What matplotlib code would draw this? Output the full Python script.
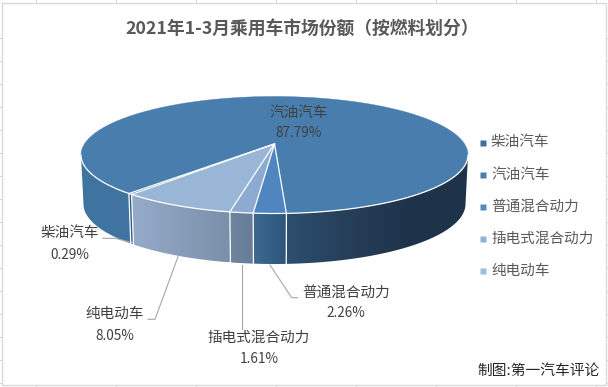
import numpy as np
import matplotlib
matplotlib.use('Agg')
import matplotlib.pyplot as plt
from matplotlib.colors import LinearSegmentedColormap
from matplotlib.patches import Polygon

plt.rcParams['font.family'] = ['Noto Sans CJK SC', 'DejaVu Sans']

# Data, in the order Excel draws the slices
categories = ['柴油汽车', '汽油汽车', '普通混合动力', '插电式混合动力', '纯电动车']
shares = [0.29, 87.79, 2.26, 1.61, 8.05]
title = '2021年1-3月乘用车市场份额（按燃料划分）'
credit = '制图:第一汽车评论'

top_colors = ['#3f6f9c', '#487dae', '#4f86bf', '#8dabd0', '#9ab6d6']
legend_colors = ['#3f6f9c', '#487dae', '#4f8ac4', '#8fb1da', '#9cbce0']
# side colours from left to right for the front of each slice
side_colors = [['#2c5d88', '#2c5d88'],
               ['#3f73a1', '#41749f'],
               ['#3d6991', '#2e5579'],
               ['#6f849f', '#687c97'],
               ['#95abca', '#7b8fa9']]
gas_right_colors = ['#2d4e6f', '#263f5a', '#1f344b', '#1e3349']

# Pixel layout of the 3D pie
TOP = (274.5, 155.0, 193.5, 58.5)
BOTTOM = (274.5, 204.0, 191.0, 60.0)
K = -0.19  # moves the apex towards the back, like the perspective in Excel
START = -40.0  # degrees from front centre where the first slice begins


def rim(phi_deg, ellipse):
    # Map a circle angle to the tilted rim (phi = 0 faces the viewer)
    cx, cy, a, b = ellipse
    phi = np.radians(phi_deg)
    u, v = np.sin(phi), np.cos(phi)
    d = 1 + K * v
    return cx + a * u * np.sqrt(1 - K ** 2) / d, cy + b * (v + K) / d


def apex():
    cx, cy, a, b = TOP
    return cx, cy + b * K


def draw_side(ax, phi_a, phi_b, colors):
    # Front wall between two angles, filled with a left to right gradient
    phis = np.linspace(phi_a, phi_b, 80)
    xt, yt = rim(phis, TOP)
    xb, yb = rim(phis, BOTTOM)
    pts = np.column_stack([np.r_[xt, xb[::-1]], np.r_[yt, yb[::-1]]])
    poly = Polygon(pts, closed=True, facecolor='none', edgecolor='none',
                   transform=ax.transData)
    ax.add_patch(poly)
    cmap = LinearSegmentedColormap.from_list('side', colors)
    grad = np.linspace(0, 1, 256).reshape(1, -1)
    x0, x1 = pts[:, 0].min(), pts[:, 0].max()
    im = ax.imshow(grad, cmap=cmap, aspect='auto', interpolation='bilinear',
                   extent=(x0, x1, pts[:, 1].max(), pts[:, 1].min()), zorder=2)
    im.set_clip_path(poly)


fig = plt.figure(figsize=(6.08, 3.87), dpi=100)
ax = fig.add_axes([0, 0, 1, 1])

# Slice boundaries: clockwise on screen means the angle goes down
edges = START - np.cumsum([0] + [s * 3.6 for s in shares])
front_limit = np.degrees(np.arccos(-K))

# --- walls ---
draw_side(ax, edges[1], edges[0], side_colors[0])
draw_side(ax, -front_limit, edges[1], side_colors[1])
draw_side(ax, edges[2] + 360, front_limit, gas_right_colors)
for i in [2, 3, 4]:
    draw_side(ax, edges[i + 1] + 360, edges[i] + 360, side_colors[i])

# --- top face ---
ax_x, ax_y = apex()
for i in [1, 2, 3, 4, 0]:
    phis = np.linspace(edges[i], edges[i + 1], max(int(shares[i] * 8), 6))
    xs, ys = rim(phis, TOP)
    pts = np.column_stack([np.r_[ax_x, xs], np.r_[ax_y, ys]])
    ax.add_patch(Polygon(pts, closed=True, facecolor=top_colors[i],
                         edgecolor=top_colors[i], linewidth=0.3, zorder=3))

# --- white edges ---
phis = np.linspace(-front_limit, front_limit, 200)
ax.plot(*rim(phis, TOP), color='white', lw=0.9, zorder=4)
for e in edges[:-1]:
    x_top, y_top = rim(e, TOP)
    x_bot, y_bot = rim(e, BOTTOM)
    ax.plot([ax_x, x_top], [ax_y, y_top], color='white', lw=0.9, zorder=4)
    ax.plot([x_top, x_bot], [y_top, y_bot], color='white', lw=0.9, zorder=4)

# --- leader lines ---
leaders = [([102.7, 115, 133], [238.3, 238.3, 242.7]),
           ([148, 155, 178], [319.3, 319.3, 256.7]),
           ([242.3, 242.3], [265, 329]),
           ([270, 291.7, 297.7], [265, 297.7, 297.7])]
for lx, ly in leaders:
    ax.plot(lx, ly, color='#a6a6a6', lw=0.8, zorder=3)

# --- data labels ---
label_pos = [(69.7, 233, 255), (299, 113, 133), (346, 292.7, 313),
             (259, 338, 359), (114.5, 314, 335.7)]
for name, val, (x, y1, y2) in zip(categories, shares, label_pos):
    ax.text(x, y1, name, ha='center', va='center', fontsize=10.5, color='#404040', zorder=5)
    ax.text(x, y2, f'{val:.2f}%', ha='center', va='center', fontsize=9.8, color='#404040', zorder=5)

# --- legend ---
for name, col, y in zip(categories, legend_colors, [142.7, 175, 207.3, 239.3, 271.3]):
    ax.plot([482.5], [y], marker='s', ms=3.8, color=col, mec='none', zorder=5)
    ax.text(491, y - 0.5, name, ha='left', va='center', fontsize=10.5, color='#595959', zorder=5)

ax.text(302, 30, title, ha='center', va='center', fontsize=12.8, fontweight='bold', color='#595959')
ax.text(600, 371, credit, ha='right', va='center', fontsize=10.6, color='#262626')

# --- chart frame and the spreadsheet cell lines around it ---
grid = '#d9d9d9'
ax.plot([1.7, 606, 606, 1.7, 1.7], [3, 3, 385, 385, 3], color=grid, lw=1, zorder=1)
for x in np.arange(35.5, 608, 80):
    ax.plot([x, x], [0, 3], color=grid, lw=0.8, zorder=1)
    ax.plot([x, x], [385, 387], color=grid, lw=0.8, zorder=1)
for y in np.arange(38, 387, 23):
    ax.plot([0, 1.7], [y, y], color=grid, lw=0.8, zorder=1)
    ax.plot([606, 608], [y, y], color=grid, lw=0.8, zorder=1)

ax.set_xlim(0, 608)
ax.set_ylim(387, 0)
ax.axis('off')
fig.savefig('out.png', dpi=100, facecolor='white')
